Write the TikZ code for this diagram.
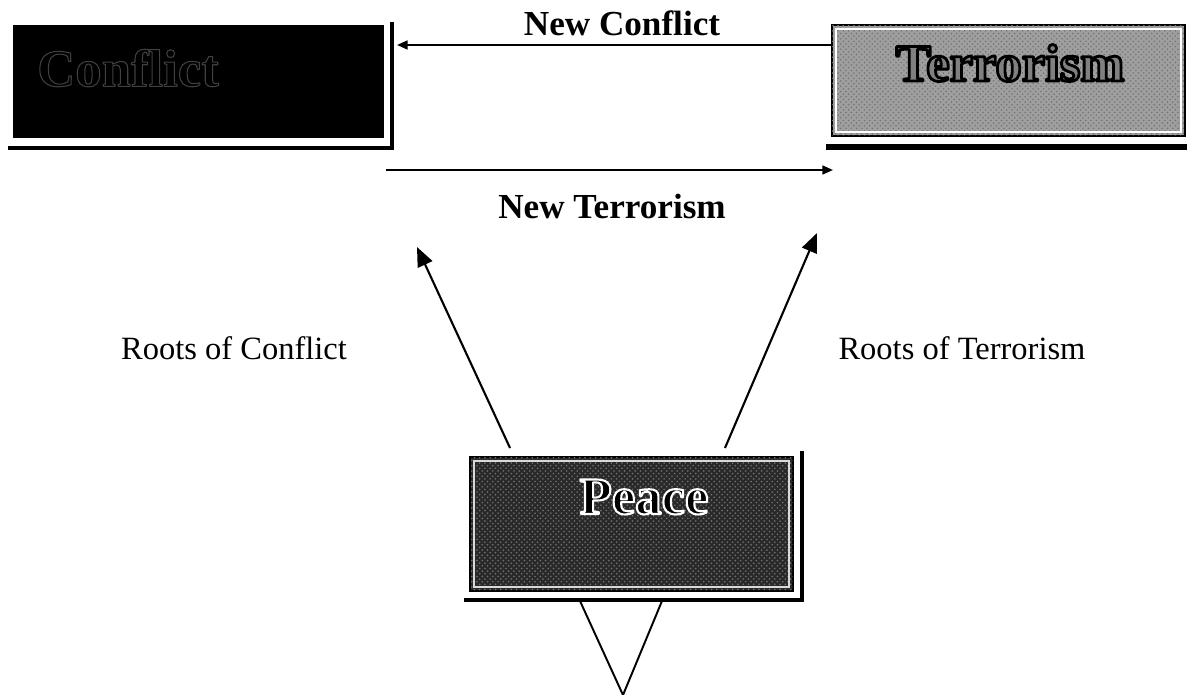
\documentclass[tikz,border=0pt]{standalone}
\usepackage{fontspec}
\setmainfont{Liberation Serif}
\usetikzlibrary{arrows.meta,patterns,calc}
% filled + stroked text: #1 fill colour, #2 stroke rgb, #3 stroke width, #4 text
\newcommand\strokedtext[4]{{\color{#1}\special{pdf:literal direct #2 RG #3 w 1 j 2 Tr}#4\special{pdf:literal direct 0 Tr}}}
\begin{document}
\begin{tikzpicture}[x=0.02cm,y=-0.02cm,
  lbl/.style={font=\fontsize{18.5}{20}\selectfont, inner sep=0pt},
  blbl/.style={font=\bfseries\fontsize{20}{22}\selectfont, inner sep=0pt},
  title/.style={font=\bfseries\fontsize{30}{32}\selectfont, inner sep=0pt},
  conn/.style={line width=1.2pt,-{Triangle[length=11pt,width=9pt]}},
  hconn/.style={line width=1.1pt,-{Triangle[length=6pt,width=5pt]}},
  plain/.style={line width=1.1pt},
  boxbase/.style={inner sep=0pt, outer sep=0pt, anchor=center}]
\useasboundingbox (0,0) rectangle (1187,695);

% ---- Conflict box
\node[boxbase, fill=black, minimum width=7.42cm, minimum height=2.26cm] (conflict) at (198.5,81.5) {};
\draw[line width=2.2pt] (8,148) -- (392,148) -- (392,22);
\node[title] (conflictlabel) at (128,68) {\strokedtext{black}{0.25 0.25 0.25}{0.6}{Conflict}};

% ---- Terrorism box
\node[boxbase, fill=gray!75, draw=black, line width=1.1pt,
      postaction={pattern=crosshatch dots, pattern color=black!55},
      minimum width=7.06cm, minimum height=2.22cm] (terror) at (1008.5,80.5) {};
\draw[white, line width=0.8pt] ($(terror.north west)+(4,4)$) rectangle ($(terror.south east)+(-4,-4)$);
\draw[line width=2.9pt] (826,147) -- (1187,147);
\node[title] (terrorlabel) at (1010,63) {\strokedtext{black!50}{0 0 0}{1.6}{Terrorism}};

% ---- Peace box
\node[boxbase, fill=black!84, draw=black, line width=1pt,
      postaction={pattern=crosshatch dots, pattern color=black!55},
      minimum width=6.46cm, minimum height=2.68cm] (peace) at (631.5,524) {};
\draw[white!85!black, line width=0.9pt] ($(peace.north west)+(4,4)$) rectangle ($(peace.south east)+(-4,-4)$);
\draw[line width=2.3pt] (464,600) -- (802,600) -- (802,451);
\node[title] (peacelabel) at (644,497) {\strokedtext{black}{1 1 1}{1.2}{Peace}};

% ---- horizontal connectors
\coordinate (ncend) at (397,45);
\draw[hconn] (terror.west |- ncend) -- (ncend);
\node[blbl] (nclabel) at (622,23) {New Conflict};

\coordinate (ntstart) at (386,170);
\coordinate (ntend) at (833,170);
\draw[hconn] (ntstart) -- (ntend);
\node[blbl] (ntlabel) at (612,206) {New Terrorism};

% ---- roots connectors
\coordinate (rctip) at (417,247);
\coordinate (rttip) at (817,233);
\draw[conn] ($(peace.north west)+(40,-9)$) -- (rctip);
\draw[conn] ($(peace.north east)+(-68,-9)$) -- (rttip);
\node[lbl] (rclabel) at (234,348) {Roots of Conflict};
\node[lbl] (rtlabel) at (962,348) {Roots of Terrorism};

% ---- V below peace
\coordinate (vtip) at (623,695);
\draw[plain] ($(peace.south)+(-51.5,10)$) -- (vtip) -- ($(peace.south)+(30.5,10)$);
\end{tikzpicture}
\end{document}
